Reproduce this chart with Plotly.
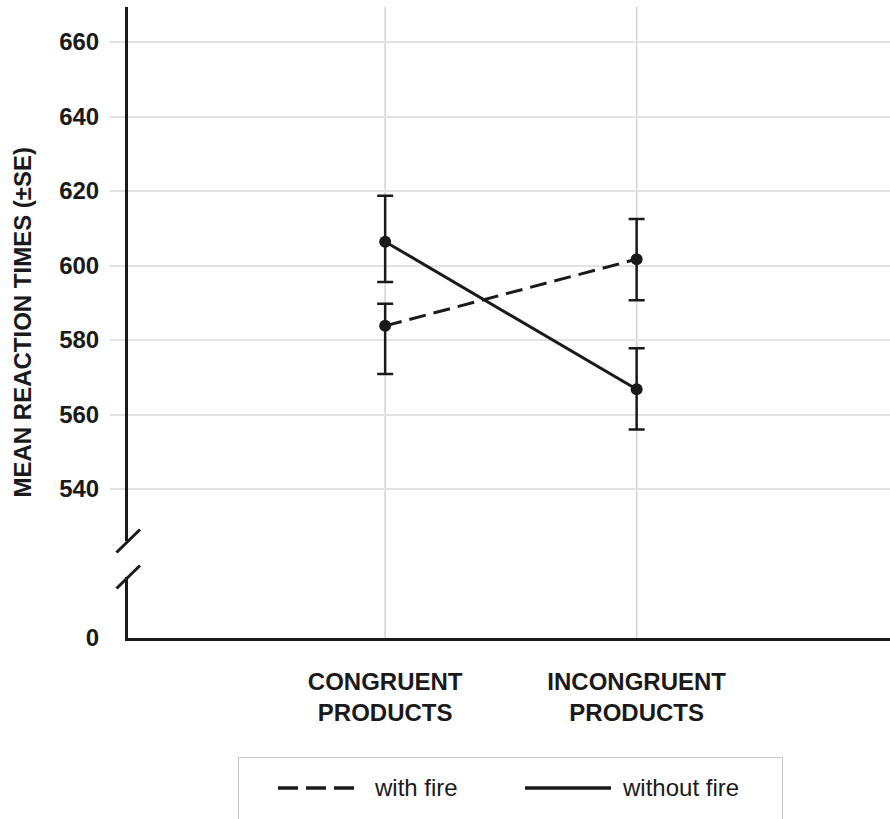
import plotly.graph_objects as go

# ---- data ----
categories = ["CONGRUENT<br>PRODUCTS", "INCONGRUENT<br>PRODUCTS"]
series_names = ["with fire", "without fire"]
with_fire = [583.8, 601.7]
with_fire_se_plus = [5.9, 10.8]
with_fire_se_minus = [12.9, 11.0]
without_fire = [606.4, 566.8]
without_fire_se_plus = [12.3, 11.0]
without_fire_se_minus = [10.8, 10.8]
y_ticks_top = [540, 560, 580, 600, 620, 640, 660]
y_ticks_bottom = [0]

INK = "#1a1a1a"
GRID = "#e3e3e3"
VGRID = "#d2d2d2"
FONT = "Liberation Sans, Arial, sans-serif"

W, H = 890, 819
L, R, T, B = 128, 0, 7, 181
PW, PH = W - L - R, H - T - B

def fy(py):  # pixel y -> paper fraction
    return (H - B - py) / PH

def fx(px):
    return (px - L) / PW

DASH = "17px,8px"

fig = go.Figure()
fig.add_trace(go.Scatter(
    x=categories, y=with_fire, name=series_names[0], mode="lines+markers",
    line=dict(color=INK, width=3, dash=DASH),
    marker=dict(color=INK, size=12),
    error_y=dict(type="data", array=with_fire_se_plus, arrayminus=with_fire_se_minus,
                 symmetric=False, color=INK, thickness=2.5, width=8),
    xaxis="x", yaxis="y", showlegend=False,
))
fig.add_trace(go.Scatter(
    x=categories, y=without_fire, name=series_names[1], mode="lines+markers",
    line=dict(color=INK, width=3),
    marker=dict(color=INK, size=12),
    error_y=dict(type="data", array=without_fire_se_plus, arrayminus=without_fire_se_minus,
                 symmetric=False, color=INK, thickness=2.5, width=8),
    xaxis="x", yaxis="y", showlegend=False,
))
# empty trace so the lower (zero) segment of the broken axis exists
fig.add_trace(go.Scatter(x=[], y=[], xaxis="x", yaxis="y2", showlegend=False,
                         hoverinfo="skip"))

top_bottom_frac = fy(541)
bot_top_frac = fy(577)

shapes = []
# vertical category gridlines through the whole plot height
for i in range(len(categories)):
    shapes.append(dict(type="line", xref="x", yref="paper", x0=i, x1=i, y0=0, y1=1,
                       line=dict(color=VGRID, width=1.5), layer="below"))
# axis break slashes
for cy in (541, 577):
    shapes.append(dict(type="line", xref="paper", yref="paper",
                       x0=fx(116.5), x1=fx(140), y0=fy(cy + 11.5), y1=fy(cy - 11.5),
                       line=dict(color=INK, width=3)))
# legend frame and samples
shapes.append(dict(type="rect", xref="paper", yref="paper",
                   x0=fx(238.5), x1=fx(782.5), y0=fy(840), y1=fy(757.5),
                   line=dict(color="#c8c8c8", width=1), fillcolor="rgba(0,0,0,0)"))
shapes.append(dict(type="line", xref="paper", yref="paper",
                   x0=fx(278), x1=fx(354), y0=fy(788), y1=fy(788),
                   line=dict(color=INK, width=3.5, dash="20px,8px")))
shapes.append(dict(type="line", xref="paper", yref="paper",
                   x0=fx(525), x1=fx(611), y0=fy(788), y1=fy(788),
                   line=dict(color=INK, width=3.5)))

annotations = [
    dict(text="MEAN REACTION TIMES (±SE)", xref="paper", yref="paper",
         x=fx(22), y=0.5, xanchor="center", yanchor="middle",
         textangle=-90, showarrow=False,
         font=dict(size=24, family=FONT, weight="bold", color=INK)),
    dict(text=series_names[0], xref="paper", yref="paper", x=fx(372), y=fy(788),
         xanchor="left", yanchor="middle", showarrow=False,
         font=dict(size=24, family=FONT, color=INK)),
    dict(text=series_names[1], xref="paper", yref="paper", x=fx(620), y=fy(788),
         xanchor="left", yanchor="middle", showarrow=False,
         font=dict(size=24, family=FONT, color=INK)),
]

fig.update_layout(
    template="none",
    width=W, height=H,
    margin=dict(l=L, r=R, t=T, b=B, pad=0, autoexpand=False),
    paper_bgcolor="white", plot_bgcolor="white",
    font=dict(family=FONT, size=24, color=INK),
    showlegend=False,
    xaxis=dict(anchor="y2", type="category", range=[-1.0226, 2.0075], automargin=False,
               showgrid=False, zeroline=False, showline=True, linecolor=INK, linewidth=3,
               ticks="", tickfont=dict(size=24, family=FONT, weight="bold", color=INK),
               ticklabelstandoff=20),
    yaxis=dict(domain=[top_bottom_frac, 1], range=[526.04, 669.4], anchor="x",
               automargin=False,
               tickvals=y_ticks_top, showgrid=True, gridcolor=GRID, gridwidth=2,
               zeroline=False, showline=True, linecolor=INK, linewidth=3,
               ticks="outside", ticklen=15, tickcolor=GRID, tickwidth=2,
               ticklabelstandoff=6,
               tickfont=dict(size=24, family=FONT, weight="bold", color=INK)),
    yaxis2=dict(domain=[0, bot_top_frac], range=[0, 10], anchor="x", automargin=False,
                tickvals=y_ticks_bottom, showgrid=False, zeroline=False,
                showline=True, linecolor=INK, linewidth=3, ticks="",
                ticklabelstandoff=21,
                tickfont=dict(size=24, family=FONT, weight="bold", color=INK)),
    shapes=shapes,
    annotations=annotations,
)

fig.write_html("out.html",
               config={"displayModeBar": False},
               post_script="document.body.style.margin='0';document.body.style.overflow='hidden';")
